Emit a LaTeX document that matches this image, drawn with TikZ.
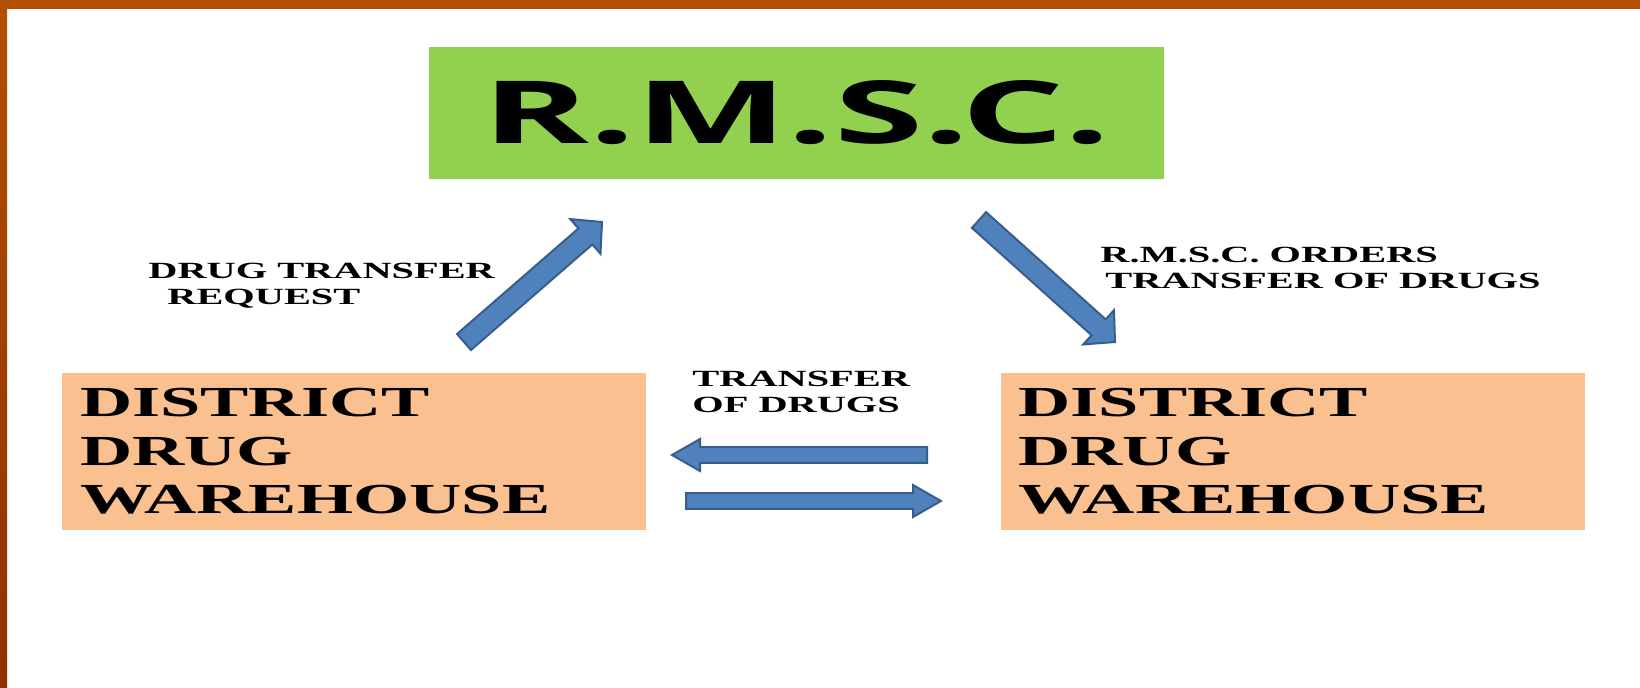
\documentclass[tikz,border=0pt]{standalone}
\usepackage{fontspec}
\usetikzlibrary{calc, positioning}
\newfontfamily\titlefont[FakeStretch=1.86]{Open Sans}
\newfontfamily\boxfont[FakeStretch=1.69]{Liberation Serif}
\newfontfamily\labelfont[FakeStretch=1.74]{Liberation Serif}
\definecolor{rmscgreen}{HTML}{92D050}
\definecolor{dwpeach}{HTML}{FAC090}
\definecolor{arrowfill}{HTML}{4F81BD}
\definecolor{arrowedge}{HTML}{385D8A}
\definecolor{frametop}{HTML}{B05000}
\definecolor{framebot}{HTML}{932F00}
\tikzstyle{dwbox} = [rectangle, fill=dwpeach, minimum width=292pt, minimum height=78.5pt, text width=274pt, align=left, inner sep=0pt, font=\boxfont\bfseries\fontsize{21.4pt}{24.25pt}\selectfont]
\tikzstyle{lbl} = [inner sep=0pt, align=left, anchor=base west, font=\labelfont\bfseries\fontsize{11.6pt}{12.75pt}\selectfont]

\begin{document}
\begin{tikzpicture}[x=0.5pt, y=-0.5pt,
    blockarrow/.style n args={3}{draw=arrowedge, fill=arrowfill, line width=1pt, line join=miter,
      to path={($(\tikztostart)!#1!90:(\tikztotarget)$)
        -- ($(\tikztotarget)!#3!(\tikztostart)!#1!-90:(\tikztostart)$)
        -- ($(\tikztotarget)!#3!(\tikztostart)!#2!-90:(\tikztostart)$)
        -- (\tikztotarget)
        -- ($(\tikztotarget)!#3!(\tikztostart)!#2!90:(\tikztostart)$)
        -- ($(\tikztotarget)!#3!(\tikztostart)!#1!90:(\tikztostart)$)
        -- ($(\tikztostart)!#1!-90:(\tikztotarget)$) -- cycle}},
    diagarrow/.style={blockarrow={5.3pt}{11.5pt}{11pt}},
    flatarrow/.style={blockarrow={3.9pt}{8pt}{14pt}}]

    \useasboundingbox (0,0) rectangle (1640,687);
    \fill[white] (0,0) rectangle (1640,687);
    % frame
    \fill[frametop] (0,0) rectangle (1640,9);
    \shade[top color=frametop, bottom color=framebot] (0,9) rectangle (7,687);

    % boxes
    \node[rectangle, fill=rmscgreen, minimum width=367.5pt, minimum height=66pt, inner sep=0pt,
      font=\titlefont\bfseries\fontsize{43.5pt}{50pt}\selectfont] (rmsc) at (796.5,113) {R.M.S.C.};
    \node[dwbox] (leftdw) at (354,451.5) {DISTRICT\\DRUG\\WAREHOUSE};
    \node[dwbox] (rightdw) at (1292.5,451.5) {DISTRICT\\DRUG\\WAREHOUSE};

    % labels
    \node[lbl] (reqlbl) at (148,304) {DRUG TRANSFER\\\hspace*{9.5pt}REQUEST};
    \node[lbl] (orderlbl) at (1100,288) {R.M.S.C. ORDERS\\\hspace*{2.5pt}TRANSFER OF DRUGS};
    \node[lbl] (translbl) at (692,412) {TRANSFER\\OF DRUGS};

    % arrow ends
    \coordinate (reqtail) at (464,342);
    \coordinate (reqtip) at (602,222);
    \coordinate (ordtail) at (979,220);
    \coordinate (ordtip) at (1115,342);
    \coordinate (backtail) at (927,455);
    \coordinate (backtip) at (672,455);
    \coordinate (fwdtail) at (686,501);
    \coordinate (fwdtip) at (941,501);

    \draw[diagarrow] (reqtail) to (reqtip);
    \draw[diagarrow] (ordtail) to (ordtip);
    \draw[flatarrow] (backtail) to (backtip);
    \draw[flatarrow] (fwdtail) to (fwdtip);

\end{tikzpicture}
\end{document}
